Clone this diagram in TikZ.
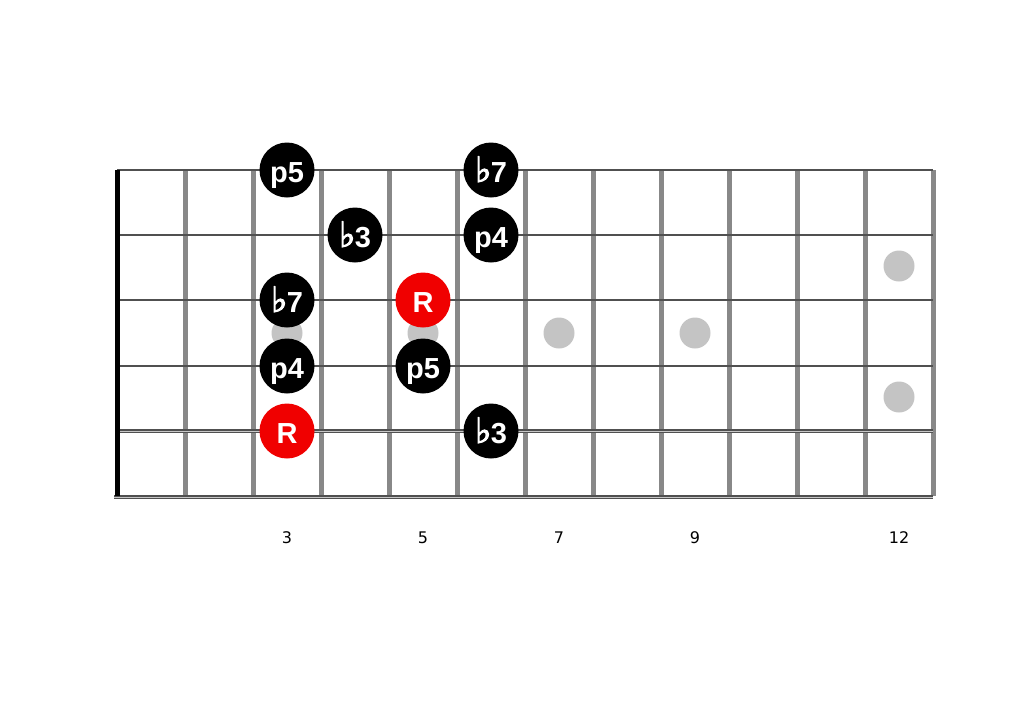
\documentclass[tikz,border=0pt]{standalone}
\usepackage{fontspec}
\setmainfont{Liberation Sans}
\newfontfamily\flatfont[FakeBold=3]{DejaVu Sans}
\newfontfamily\numfont{DejaVu Sans}
\usetikzlibrary{calc}
\definecolor{fretgray}{HTML}{888888}
\definecolor{stringgray}{HTML}{505050}
\definecolor{inlaygray}{HTML}{C4C4C4}
\definecolor{rootred}{HTML}{F00000}
\newcommand{\flatsym}{{\flatfont\fontsize{35}{29}\selectfont ♭}\kern-0.5pt}

\begin{document}
\begin{tikzpicture}[x=1pt, y=-1pt,
    note/.style={circle, fill=black, minimum size=55pt, inner sep=0pt, text=white,
      text height=24pt, text depth=0pt,
      font=\fontsize{29}{29}\selectfont\bfseries},
    root/.style={note, fill=rootred},
    inlay/.style={circle, fill=inlaygray, minimum size=31pt, inner sep=0pt},
    fret/.style={fretgray, line width=5pt},
    plainstring/.style={stringgray, line width=1.8pt},
    woundstring/.style={stringgray, line width=2.2pt, double=gray!45, double distance=0.4pt},
    fretnum/.style={font=\numfont\fontsize{16}{16}\selectfont}]
    \useasboundingbox (0,0) rectangle (1024,724);

    \coordinate (NutTop) at (117,170);
    \coordinate (NutBot) at (117,496);

    % inlays
    \node[inlay] (in3) at (287,333) {};
    \node[inlay] (in5) at (423,333) {};
    \node[inlay] (in7) at (559,333) {};
    \node[inlay] (in9) at (695,333) {};
    \node[inlay] (in12a) at (899,266) {};
    \node[inlay] (in12b) at (899,397) {};

    % frets
    \foreach \f in {1,...,12}
      \draw[fret] ($(NutTop)+(68*\f,0)$) -- ($(NutBot)+(68*\f,0)$);

    % strings
    \draw[plainstring] (117,170) -- (933,170);
    \draw[plainstring] (117,235) -- (933,235);
    \draw[plainstring] (117,300) -- (933,300);
    \draw[plainstring, line width=2.2pt] (117,366) -- (933,366);
    \draw[woundstring] (115,431) -- (933,431);
    \draw[woundstring] (114,497) -- (933,497);

    % nut
    \draw[black, line width=5pt] (NutTop) -- (NutBot);

    % notes
    \node[note] (s1f3) at (287,170) {p5};
    \node[note] (s1f6) at (491,170) {\flatsym7};
    \node[note] (s2f4) at (355,235) {\flatsym3};
    \node[note] (s2f6) at (491,235) {p4};
    \node[note] (s3f3) at (287,300) {\flatsym7};
    \node[root] (s3f5) at (423,300) {R};
    \node[note] (s4f3) at (287,366) {p4};
    \node[note] (s4f5) at (423,366) {p5};
    \node[root] (s5f3) at (287,431) {R};
    \node[note] (s5f6) at (491,431) {\flatsym3};

    % fret numbers
    \node[fretnum] (n3) at (287,538) {3};
    \node[fretnum] (n5) at (423,538) {5};
    \node[fretnum] (n7) at (559,538) {7};
    \node[fretnum] (n9) at (695,538) {9};
    \node[fretnum] (n12) at (899,538) {12};
\end{tikzpicture}
\end{document}
